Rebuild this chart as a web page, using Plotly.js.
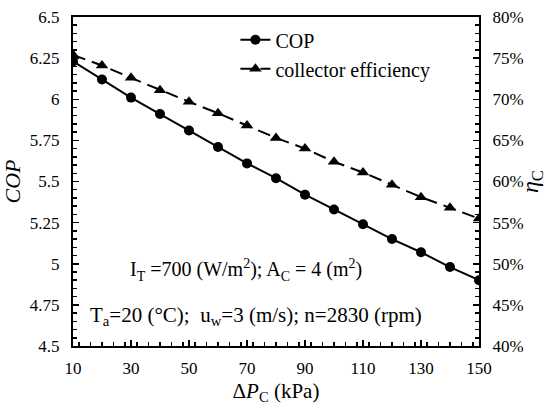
<!DOCTYPE html>
<html>
<head>
<meta charset="utf-8">
<script src="https://cdn.plot.ly/plotly-3.0.1.min.js"></script>
<style>html,body{margin:0;padding:0;background:#fff;}#chart{width:547px;height:405px;}</style>
</head>
<body>
<div id="chart"></div>
<script>
const deltaP = [10, 20, 30, 40, 50, 60, 70, 80, 90, 100, 110, 120, 130, 140, 150];
const cop = [6.23, 6.12, 6.01, 5.91, 5.81, 5.71, 5.61, 5.52, 5.42, 5.33, 5.24, 5.15, 5.07, 4.98, 4.90];
const collectorEff = [0.754, 0.741, 0.726, 0.711, 0.697, 0.683, 0.668, 0.653, 0.640, 0.624, 0.611, 0.596, 0.581, 0.568, 0.555];
const xTicks = [10, 30, 50, 70, 90, 110, 130, 150];
const seriesNames = ["COP", "collector efficiency"];

const FONT = "'Liberation Serif', 'Times New Roman', serif";

const traces = [
  {
    x: deltaP, y: cop, name: seriesNames[0], type: "scatter", mode: "lines+markers",
    line: {color: "#000", width: 2},
    marker: {symbol: "circle", size: 10, color: "#000"},
    yaxis: "y"
  },
  {
    x: deltaP, y: collectorEff, name: seriesNames[1], type: "scatter", mode: "lines+markers",
    line: {color: "#000", width: 2, dash: "13px,7px"},
    marker: {symbol: "triangle-up", size: 11, color: "#000"},
    yaxis: "y2"
  }
];

const layout = {
  width: 547, height: 405,
  margin: {l: 73, r: 68, t: 17, b: 59},
  paper_bgcolor: "#fff", plot_bgcolor: "#fff",
  font: {family: FONT, size: 17, color: "#000"},
  showlegend: true,
  legend: {
    x: 0.40, y: 0.99, xanchor: "left", yanchor: "top",
    bgcolor: "rgba(0,0,0,0)", font: {family: FONT, size: 20, color: "#000"},
    tracegroupgap: 0
  },
  xaxis: {
    range: [10, 150], tickvals: xTicks, ticktext: xTicks.map(String),
    showline: true, linecolor: "#000", linewidth: 2, mirror: true,
    ticks: "inside", ticklen: 6, tickwidth: 1.5, tickcolor: "#000",
    minor: {dtick: 4, ticks: "inside", ticklen: 4, tickwidth: 1.5, tickcolor: "#000"},
    showgrid: false, zeroline: false,
    tickfont: {family: FONT, size: 17},
    ticklabelstandoff: 6,
    title: {text: "Δ<i>P</i><sub>C</sub> (kPa)", font: {family: FONT, size: 21}, standoff: 8}
  },
  yaxis: {
    range: [4.5, 6.5], dtick: 0.25, tick0: 4.5,
    showline: true, linecolor: "#000", linewidth: 2,
    ticks: "inside", ticklen: 6, tickwidth: 1.5, tickcolor: "#000",
    minor: {dtick: 0.05, ticks: "inside", ticklen: 4, tickwidth: 1.5, tickcolor: "#000"},
    showgrid: false, zeroline: false,
    tickfont: {family: FONT, size: 17},
    ticklabelstandoff: 8,
    title: {text: "<i>COP</i>", font: {family: FONT, size: 22}, standoff: 8}
  },
  yaxis2: {
    range: [0.40, 0.80], dtick: 0.05, tick0: 0.4, tickformat: ".0%",
    overlaying: "y", side: "right",
    showline: true, linecolor: "#000", linewidth: 2,
    ticks: "inside", ticklen: 6, tickwidth: 1.5, tickcolor: "#000",
    minor: {dtick: 0.01, ticks: "inside", ticklen: 4, tickwidth: 1.5, tickcolor: "#000"},
    showgrid: false, zeroline: false,
    tickfont: {family: FONT, size: 17},
    ticklabelstandoff: 8,
    title: {text: "<i>η</i><sub>C</sub>", font: {family: FONT, size: 24}, standoff: 4}
  },
  annotations: [
    {
      xref: "paper", yref: "paper", x: 0.425, y: 0.23, xanchor: "center", yanchor: "middle",
      text: "I<sub>T</sub> =700 (W/m<sup>2</sup>); A<sub>C</sub> = 4 (m<sup>2</sup>)",
      showarrow: false, font: {family: FONT, size: 20, color: "#000"}
    },
    {
      xref: "paper", yref: "paper", x: 0.451, y: 0.092, xanchor: "center", yanchor: "middle",
      text: "T<sub>a</sub>=20 (°C);  u<sub>w</sub>=3 (m/s); n=2830 (rpm)",
      showarrow: false, font: {family: FONT, size: 21, color: "#000"}
    }
  ]
};

Plotly.newPlot("chart", traces, layout, {displayModeBar: false, staticPlot: true});
</script>
</body>
</html>
